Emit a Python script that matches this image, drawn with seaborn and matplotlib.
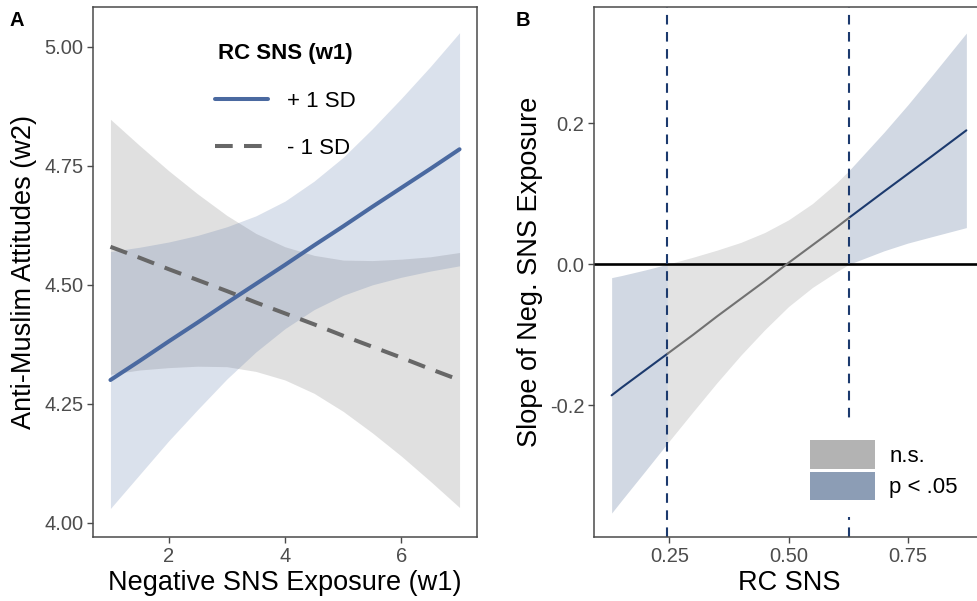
import pandas as pd
import matplotlib.pyplot as plt
import seaborn as sns
from matplotlib.lines import Line2D
from matplotlib.patches import Patch

# Panel A: simple slopes of RC SNS (+/- 1 SD)
neg_exposure = [1.0, 1.5, 2.0, 2.5, 3.0, 3.5, 4.0, 4.5, 5.0, 5.5, 6.0, 6.5, 7.0]
hi_fit = [4.300, 4.340, 4.381, 4.421, 4.462, 4.502, 4.542, 4.583, 4.623, 4.664, 4.704, 4.744, 4.785]
hi_upper = [4.570, 4.579, 4.590, 4.604, 4.622, 4.645, 4.676, 4.718, 4.768, 4.828, 4.892, 4.959, 5.030]
hi_lower = [4.030, 4.101, 4.172, 4.238, 4.302, 4.359, 4.408, 4.448, 4.478, 4.500, 4.516, 4.529, 4.540]
lo_fit = [4.580, 4.557, 4.533, 4.510, 4.487, 4.463, 4.440, 4.417, 4.393, 4.370, 4.347, 4.323, 4.300]
lo_upper = [4.848, 4.793, 4.740, 4.691, 4.646, 4.608, 4.580, 4.562, 4.552, 4.551, 4.554, 4.559, 4.568]
lo_lower = [4.312, 4.321, 4.326, 4.329, 4.328, 4.318, 4.300, 4.272, 4.234, 4.189, 4.140, 4.087, 4.032]
group_labels = ["+ 1 SD", "- 1 SD"]

# Panel B: Johnson-Neyman plot
rc_sns = [0.129, 0.15, 0.2, 0.246, 0.3, 0.35, 0.4, 0.45, 0.5, 0.55, 0.6, 0.627, 0.7, 0.75, 0.8, 0.873]
slope_fit = [-0.186, -0.175, -0.150, -0.127, -0.100, -0.074, -0.049, -0.024, 0.002, 0.027, 0.052, 0.066, 0.103, 0.128, 0.153, 0.190]
slope_upper = [-0.019, -0.016, -0.008, 0.000, 0.010, 0.020, 0.031, 0.045, 0.063, 0.086, 0.115, 0.133, 0.187, 0.226, 0.267, 0.328]
slope_lower = [-0.353, -0.335, -0.293, -0.254, -0.209, -0.168, -0.129, -0.093, -0.060, -0.033, -0.011, 0.000, 0.019, 0.030, 0.039, 0.052]
jn_bounds = [0.246, 0.627]
sig_labels = ["n.s.", "p < .05"]

# Colours
BLUE = "#4a69a0"
GREY = "#676767"
NAVY = "#1c3a6e"
NS_LINE = "#727272"
NS_FILL = "#e3e3e3"
SIG_FILL = "#d1d8e3"
NS_KEY = "#b3b3b3"
SIG_KEY = "#8c9db5"
TICK_COL = "#4d4d4d"
FRAME_COL = "#4a4a4a"

sns.set_theme(style="white")
plt.rcParams["font.family"] = ["Liberation Sans", "DejaVu Sans"]
plt.rcParams["text.color"] = "black"

fig = plt.figure(figsize=(9.77, 6.01), dpi=100)
ax1 = fig.add_axes([93 / 977, 64 / 601, 384 / 977, 530 / 601])
ax2 = fig.add_axes([594 / 977, 64 / 601, 390 / 977, 530 / 601])

for ax in (ax1, ax2):
    for sp in ax.spines.values():
        sp.set_color(FRAME_COL)
        sp.set_linewidth(1.1)
    ax.tick_params(axis="both", which="both", direction="out", length=4, width=1.0,
                   color=FRAME_COL, labelcolor=TICK_COL, labelsize=14.5, pad=3,
                   bottom=True, left=True)
    ax.grid(False)

# ---- Panel A ----
df_a = pd.DataFrame({
    "x": neg_exposure * 2,
    "y": hi_fit + lo_fit,
    "group": [group_labels[0]] * len(neg_exposure) + [group_labels[1]] * len(neg_exposure),
})

ax1.fill_between(neg_exposure, lo_lower, lo_upper, color=GREY, alpha=0.2, linewidth=0)
ax1.fill_between(neg_exposure, hi_lower, hi_upper, color=BLUE, alpha=0.2, linewidth=0)
sns.lineplot(data=df_a[df_a["group"] == group_labels[1]], x="x", y="y", ax=ax1,
             color=GREY, linewidth=2.9, legend=False)
ax1.lines[-1].set_dashes((4.4, 2.8))
sns.lineplot(data=df_a[df_a["group"] == group_labels[0]], x="x", y="y", ax=ax1,
             color=BLUE, linewidth=2.9, legend=False)

ax1.set_xlim(0.7, 7.3)
ax1.set_ylim(3.97, 5.084)
ax1.set_xticks([2, 4, 6])
ax1.set_yticks([4.00, 4.25, 4.50, 4.75, 5.00])
ax1.set_yticklabels(["4.00", "4.25", "4.50", "4.75", "5.00"])
ax1.set_xlabel("Negative SNS Exposure (w1)", fontsize=19.5, color="black", labelpad=3)
ax1.set_ylabel("Anti-Muslim Attitudes (w2)", fontsize=19.5, color="black", labelpad=5)

handles_a = [
    Line2D([0], [0], color=BLUE, linewidth=2.9),
    Line2D([0], [0], color=GREY, linewidth=2.9, dashes=(4.4, 2.8)),
]
leg = ax1.legend(handles_a, group_labels, title="RC SNS (w1)", loc="upper center",
                 bbox_to_anchor=(0.5, 0.97), frameon=False, fontsize=16,
                 handlelength=2.4, handletextpad=0.85, labelspacing=1.2,
                 title_fontproperties={"weight": "bold", "size": 16})
leg._legend_box.align = "center"
leg.get_title().set_color("black")
for t in leg.get_texts():
    t.set_color("black")

# ---- Panel B ----
seg_rows = []
for i, x in enumerate(rc_sns):
    if x <= jn_bounds[0]:
        seg_rows.append((x, slope_fit[i], slope_lower[i], slope_upper[i], "low", sig_labels[1]))
    if jn_bounds[0] <= x <= jn_bounds[1]:
        seg_rows.append((x, slope_fit[i], slope_lower[i], slope_upper[i], "mid", sig_labels[0]))
    if x >= jn_bounds[1]:
        seg_rows.append((x, slope_fit[i], slope_lower[i], slope_upper[i], "high", sig_labels[1]))
df_b = pd.DataFrame(seg_rows, columns=["x", "fit", "lower", "upper", "segment", "sig"])

for seg, sub in df_b.groupby("segment", sort=False):
    fill = NS_FILL if sub["sig"].iloc[0] == sig_labels[0] else SIG_FILL
    ax2.fill_between(sub["x"], sub["lower"], sub["upper"], color=fill, linewidth=0, zorder=1)

sns.lineplot(data=df_b, x="x", y="fit", hue="sig", units="segment", estimator=None,
             palette={sig_labels[0]: NS_LINE, sig_labels[1]: NAVY}, linewidth=1.5,
             legend=False, ax=ax2, zorder=3)

ax2.axhline(0, color="black", linewidth=1.9, zorder=2)
for b in jn_bounds:
    ax2.axvline(b, color=NAVY, linewidth=1.5, dashes=(4.6, 3.6), zorder=2)

ax2.set_xlim(0.092, 0.91)
ax2.set_ylim(-0.387, 0.365)
ax2.set_xticks([0.25, 0.50, 0.75])
ax2.set_xticklabels(["0.25", "0.50", "0.75"])
ax2.set_yticks([-0.2, 0.0, 0.2])
ax2.set_yticklabels(["-0.2", "0.0", "0.2"])
ax2.set_xlabel("RC SNS", fontsize=19.5, color="black", labelpad=3)
ax2.set_ylabel("Slope of Neg. SNS Exposure", fontsize=19.5, color="black", labelpad=5)

handles_b = [Patch(facecolor=NS_KEY, edgecolor="none"), Patch(facecolor=SIG_KEY, edgecolor="none")]
leg_b = ax2.legend(handles_b, sig_labels, loc="lower right", bbox_to_anchor=(0.975, 0.038),
                   frameon=True, framealpha=1, facecolor="white", edgecolor="none",
                   fontsize=16, handlelength=2.9, handleheight=1.6, handletextpad=0.65,
                   labelspacing=0.12, borderpad=0.75, borderaxespad=0.0)
leg_b.set_zorder(5)
for t in leg_b.get_texts():
    t.set_color("black")

# panel letters
fig.text(10 / 977, 1 - 26 / 601, "A", fontsize=14.5, fontweight="bold", color="black")
fig.text(516 / 977, 1 - 26 / 601, "B", fontsize=14.5, fontweight="bold", color="black")

fig.savefig("out.png", dpi=100)
